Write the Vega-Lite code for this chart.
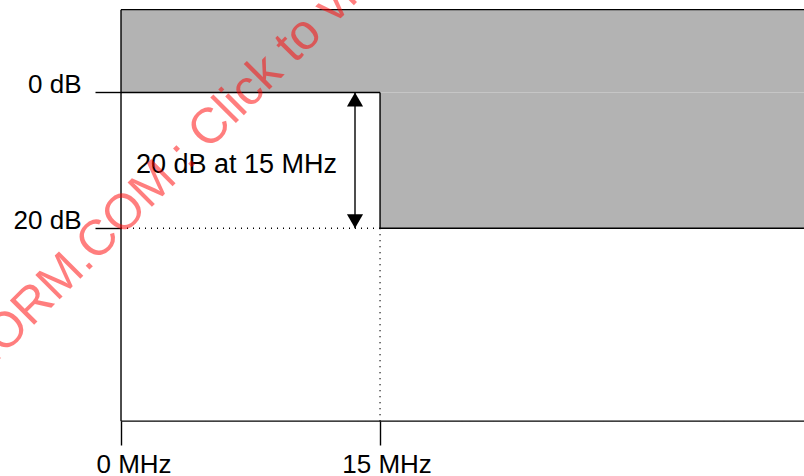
{
  "$schema": "https://vega.github.io/schema/vega-lite/v6.json",
  "width": 804,
  "height": 476,
  "autosize": "none",
  "padding": 0,
  "background": "white",
  "config": {"view": {"stroke": null}, "font": "Liberation Sans"},
  "datasets": {
    "fills": [
      {"x": 0, "x2": 40, "y": -12.2, "y2": 0},
      {"x": 15, "x2": 40, "y": 0, "y2": 20}
    ],
    "lines": [
      {"x": 0, "x2": 40, "y": -12.2, "y2": -12.2, "s": "solid"},
      {"x": 0, "x2": 0, "y": -12.2, "y2": 48.4, "s": "solid"},
      {"x": 0, "x2": 15, "y": 0, "y2": 0, "s": "solid"},
      {"x": 15, "x2": 15, "y": 0, "y2": 20, "s": "solid"},
      {"x": 15, "x2": 40, "y": 20, "y2": 20, "s": "solid"},
      {"x": 0, "x2": 40, "y": 48.4, "y2": 48.4, "s": "solid"},
      {"x": 0, "x2": 15, "y": 20, "y2": 20, "s": "dotted"},
      {"x": 15, "x2": 15, "y": 20, "y2": 48.4, "s": "dotted"},
      {"x": 13.55, "x2": 13.55, "y": 0, "y2": 20, "s": "solid"}
    ],
    "arrows": [
      {"x": 13.55, "y": 0, "dir": "up"},
      {"x": 13.55, "y": 20, "dir": "down"}
    ],
    "notes": [
      {"x": 6.69, "y": 11.9, "label": "20 dB at 15 MHz"}
    ],
    "watermark": [
      {"x": -11.68, "y": 51.13, "label": "IECNORM.COM : Click to view the full PDF of IEC"}
    ]
  },
  "encoding": {
    "x": {
      "field": "x",
      "type": "quantitative",
      "scale": {"domain": [-7.007, 39.55], "nice": false, "zero": false},
      "axis": {
        "orient": "bottom",
        "offset": -55,
        "values": [0, 15],
        "domain": false,
        "grid": false,
        "title": null,
        "tickSize": 24,
        "tickColor": "black",
        "tickWidth": 1.4,
        "labelExpr": "datum.value + ' MHz'",
        "labelFontSize": 26,
        "labelColor": "black",
        "labelBaseline": "alphabetic",
        "labelPadding": 27.2,
        "labelOffset": {"condition": {"test": "datum.value == 0", "value": 12.5}, "value": 6.5},
        "labelFlush": false,
        "labelOverlap": false,
        "labelBound": false
      }
    },
    "y": {
      "field": "y",
      "type": "quantitative",
      "scale": {"domain": [-13.62, 56.48], "nice": false, "zero": false, "reverse": true},
      "axis": {
        "orient": "left",
        "offset": -121,
        "values": [0, 20],
        "domain": false,
        "grid": false,
        "title": null,
        "tickSize": 26,
        "tickColor": "black",
        "tickWidth": 1.4,
        "labelExpr": "datum.value + ' dB'",
        "labelFontSize": 26,
        "labelColor": "black",
        "labelBaseline": "alphabetic",
        "labelAlign": "right",
        "labelPadding": 14,
        "labelFlush": false,
        "labelOverlap": false,
        "labelBound": false
      }
    }
  },
  "layer": [
    {
      "data": {"name": "fills"},
      "mark": {"type": "rect", "color": "#b3b3b3"},
      "encoding": {"x2": {"field": "x2"}, "y2": {"field": "y2"}}
    },
    {
      "data": {"name": "lines"},
      "mark": {"type": "rule", "color": "black", "strokeWidth": 1.4},
      "encoding": {
        "x2": {"field": "x2"},
        "y2": {"field": "y2"},
        "strokeDash": {
          "field": "s",
          "type": "nominal",
          "scale": {"domain": ["solid", "dotted"], "range": [[1, 0], [1, 5]]},
          "legend": null
        }
      }
    },
    {
      "data": {"name": "arrows"},
      "transform": [{"filter": "datum.dir == 'up'"}],
      "mark": {"type": "point", "shape": "triangle-up", "filled": true, "color": "black", "opacity": 1, "size": 260, "yOffset": 7},
      "encoding": {}
    },
    {
      "data": {"name": "arrows"},
      "transform": [{"filter": "datum.dir == 'down'"}],
      "mark": {"type": "point", "shape": "triangle-down", "filled": true, "color": "black", "opacity": 1, "size": 260, "yOffset": -7},
      "encoding": {}
    },
    {
      "data": {"name": "notes"},
      "mark": {"type": "text", "fontSize": 27, "align": "center", "baseline": "alphabetic", "color": "black", "font": "Liberation Sans"},
      "encoding": {"text": {"field": "label"}}
    },
    {
      "data": {"name": "watermark"},
      "mark": {"type": "text", "fontSize": 50, "align": "left", "baseline": "alphabetic", "angle": -45, "color": "red", "opacity": 0.5, "font": "Liberation Sans"},
      "encoding": {"text": {"field": "label"}}
    }
  ]
}
